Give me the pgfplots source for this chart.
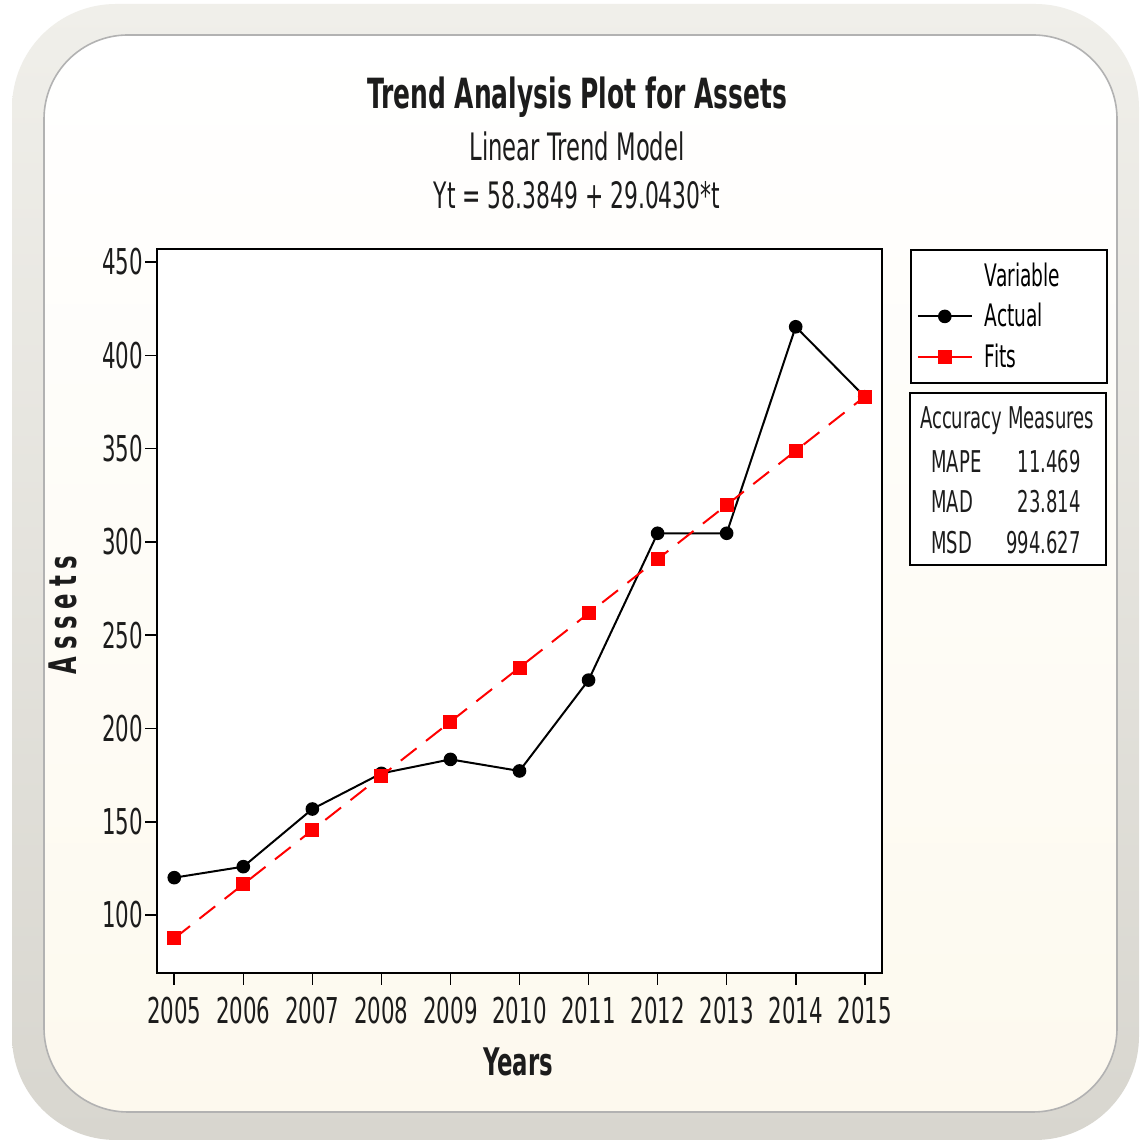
\documentclass[border=0pt]{standalone}
\usepackage{fontspec}
\setmainfont{DejaVu Sans}[FakeStretch=0.6]
\usepackage{pgfplots}
\pgfplotsset{compat=1.18}
\definecolor{bandtop}{HTML}{F0EFEA}
\definecolor{bandbot}{HTML}{D8D6CF}
\definecolor{cream}{HTML}{FDF9EE}
\definecolor{txt}{HTML}{1C1C1C}
\begin{document}
\begin{tikzpicture}
\begin{scope}[x=0.5pt,y=0.5pt]
\useasboundingbox (0,0) rectangle (1139,1144);
\fill[white] (0,0) rectangle (1139,1144);
\shade[top color=bandtop, bottom color=bandbot, rounded corners=52pt] (12,4) rectangle (1139,1140);
\shade[top color=white, bottom color=cream, rounded corners=42pt] (44,32) rectangle (1117,1109);
\draw[black!30, line width=0.8pt, rounded corners=42pt] (44,32) rectangle (1117,1109);

\node[font=\bfseries\fontsize{20.8}{23}\selectfont, text=txt] at (577,1047) {Trend Analysis Plot for Assets};
\node[font=\fontsize{18.9}{21}\selectfont, text=txt] at (577,998) {Linear Trend Model};
\node[font=\fontsize{18.2}{21}\selectfont, text=txt] at (577,949) {Yt = 58.3849 + 29.0430*t};
\end{scope}

\begin{axis}[
  at={(78.5pt,85.5pt)}, anchor=south west,
  scale only axis, width=362.5pt, height=362pt,
  xmin=2004.75, xmax=2015.25, ymin=68.9, ymax=457,
  xtick={2005,2006,...,2015}, ytick={100,150,...,450},
  tick align=outside, tick pos=left, major tick length=6pt,
  axis line style={line width=0.8pt, black},
  tick style={line width=0.8pt, black},
  axis background/.style={fill=white},
  ticklabel style={font=\fontsize{17.8}{20}\selectfont, text=txt},
  yticklabel style={xshift=2.5pt},
  xticklabel style={yshift=-2.5pt},
  /pgf/number format/assume math mode=true,
  /pgf/number format/1000 sep={},
  xlabel={Years}, ylabel={\addfontfeature{LetterSpace=18}Assets},
  xlabel style={at={(axis description cs:0.498,-0.1229)}, anchor=center, font=\bfseries\fontsize{19}{22}\selectfont, text=txt},
  ylabel style={at={(axis description cs:-0.1297,0.4945)}, anchor=center, font=\bfseries\fontsize{19}{22}\selectfont, text=txt},
  legend style={at={(1.0386,1)}, anchor=north west, draw=black, line width=0.8pt, fill=white,
    font=\fontsize{15.5}{18}\selectfont, inner xsep=3pt, inner ysep=4.5pt, row sep=2.9pt},
  legend cell align=left,
  legend image code/.code={\draw[mark repeat=2,mark phase=2,#1,solid] plot coordinates {(0pt,0pt)(13.5pt,0pt)(27pt,0pt)};},
]
\addlegendimage{empty legend}
\addlegendentry{\makebox[60pt][l]{\hspace{4pt}Variable}}
\addplot[black, line width=1pt, mark=*, mark size=2.9pt, mark options={solid, fill=black}] coordinates {
(2005,120.0) (2006,125.9) (2007,156.8) (2008,175.9) (2009,183.4) (2010,177.2)
(2011,225.9) (2012,304.6) (2013,304.6) (2014,415.3) (2015,377.8)};
\addlegendentry{\hspace{4pt}Actual}
\addplot[red, line width=1pt, dash pattern=on 10pt off 6pt, mark=square*, mark size=3pt, mark options={solid, fill=red}] coordinates {
(2005,87.43) (2006,116.47) (2007,145.51) (2008,174.56) (2009,203.60) (2010,232.64)
(2011,261.69) (2012,290.73) (2013,319.77) (2014,348.82) (2015,377.86)};
\addlegendentry{\hspace{4pt}Fits}
\end{axis}

\begin{scope}[x=0.5pt,y=0.5pt]
\draw[line width=0.8pt, fill=white] (910,579) rectangle (1106,751);
\begin{scope}[every node/.style={font=\fontsize{15}{18}\selectfont, text=txt, inner sep=0pt}]
\node at (1007,723) {Accuracy Measures};
\node[anchor=west] at (931,682) {MAPE};
\node[anchor=west] at (931,642) {MAD};
\node[anchor=west] at (931,601) {MSD};
\node[anchor=east] at (1081,682) {11.469};
\node[anchor=east] at (1081,642) {23.814};
\node[anchor=east] at (1081,601) {994.627};
\end{scope}
\end{scope}
\end{tikzpicture}
\end{document}
